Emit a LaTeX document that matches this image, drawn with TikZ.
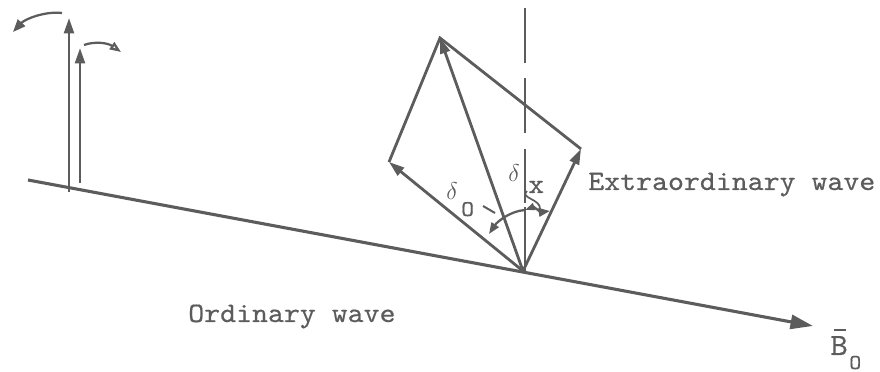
\documentclass[tikz,border=0pt]{standalone}
\usepackage{fontspec}
\newfontfamily\twf{lmmono10-regular.otf}[FakeBold=0.5,FakeStretch=1.08]
\usetikzlibrary{arrows.meta}
\definecolor{ink}{HTML}{5C5C5C}
\tikzset{
  vec/.style={draw=ink,line width=2pt,-{Triangle[length=11pt,width=7pt]}},
  plain/.style={draw=ink,line width=2pt},
  thin/.style={draw=ink,line width=1.6pt},
  lbl/.style={inner sep=0pt,anchor=base west,text=ink},
}
\newcommand{\tw}[2]{{\fontsize{#1}{#1}\twf #2}}
\begin{document}
\begin{tikzpicture}[x=0.025cm,y=-0.025cm]
\useasboundingbox (0,0) rectangle (880,372);
% points
\coordinate (S) at (28,180);
\coordinate (E) at (813,326);
\coordinate (O) at (523,271);
\coordinate (L) at (389,162);
\coordinate (T) at (440,38);
\coordinate (R) at (581,149);
\coordinate (D0) at (525,8);
\coordinate (D1) at (525,271);
\coordinate (A1) at (69,192);
\coordinate (A2) at (69,18);
\coordinate (B1) at (80,183);
\coordinate (B2) at (80,48);
\coordinate (C1) at (62,13);
\coordinate (C2) at (13,32);
\coordinate (E1) at (84,45);
\coordinate (E2) at (121,52);
\coordinate (K) at (525,210);
\coordinate (KX) at (550,211);
\coordinate (KO) at (489,234);
\coordinate (Q1) at (527,191);
\coordinate (Q2) at (540,209);
\coordinate (P1) at (483,206);
\coordinate (P2) at (495,213);
\coordinate (Bar1) at (834,330);
\coordinate (Bar2) at (846,330);
% baseline (B_o)
\draw[draw=ink,line width=2.2pt,-{Triangle[length=16pt,width=10pt]}] (S) -- (E);
% vertical vectors at left
\draw[vec] (A1) -- (A2);
\draw[vec] (B1) -- (B2);
\draw[thin,-{Triangle[length=9pt,width=7pt]}] (C1) .. controls (45,11) and (25,19) .. (C2);
\draw[thin,-{Triangle[open,length=8pt,width=6pt]}] (E1) .. controls (95,41) and (108,43) .. (E2);
% dashed vertical
\draw[draw=ink,line width=2pt,dash pattern=on 39pt off 11pt] (D0) -- (D1);
% parallelogram
\draw[vec] (O) -- (L);
\draw[vec] (O) -- (T);
\draw[vec] (O) -- (R);
\draw[plain] (L) -- (T) -- (R);
% angle arcs
\draw[thin,-{Triangle[length=8pt,width=6pt]}] (K) .. controls (510,211) and (497,222) .. (KO);
\draw[thin,{Triangle[length=7pt,width=5pt]}-{Triangle[length=8pt,width=6pt]}] (K) .. controls (533,207) and (542,212) .. (KX);
\draw[draw=ink,line width=1.6pt] (525,207) -- (525,226);
\draw[draw=ink,line width=1.2pt] (Q1) .. controls (519,198) and (541,199) .. (Q2);
\draw[draw=ink,line width=1.4pt] (P1) -- (P2);
% labels
\node[lbl,font=\fontsize{18}{18}\selectfont] (dO) at (446,200) {$\delta$};
\node[lbl] (sO) at (461,216) {\tw{16}{O}};
\node[lbl,font=\fontsize{18}{18}\selectfont] (dX) at (508,182) {$\delta$};
\node[lbl] (sX) at (528,193) {\tw{20}{x}};
\node[lbl] (ext) at (588,190) {\tw{20}{Extraordinary wave}};
\node[lbl] (ord) at (188,322) {\tw{20}{Ordinary wave}};
\node[lbl] (Bo) at (830,355) {\tw{22}{B}};
\draw[draw=ink,line width=1.4pt] (Bar1) -- (Bar2);
\node[lbl] (Bs) at (849,369) {\tw{15}{O}};
\end{tikzpicture}
\end{document}
